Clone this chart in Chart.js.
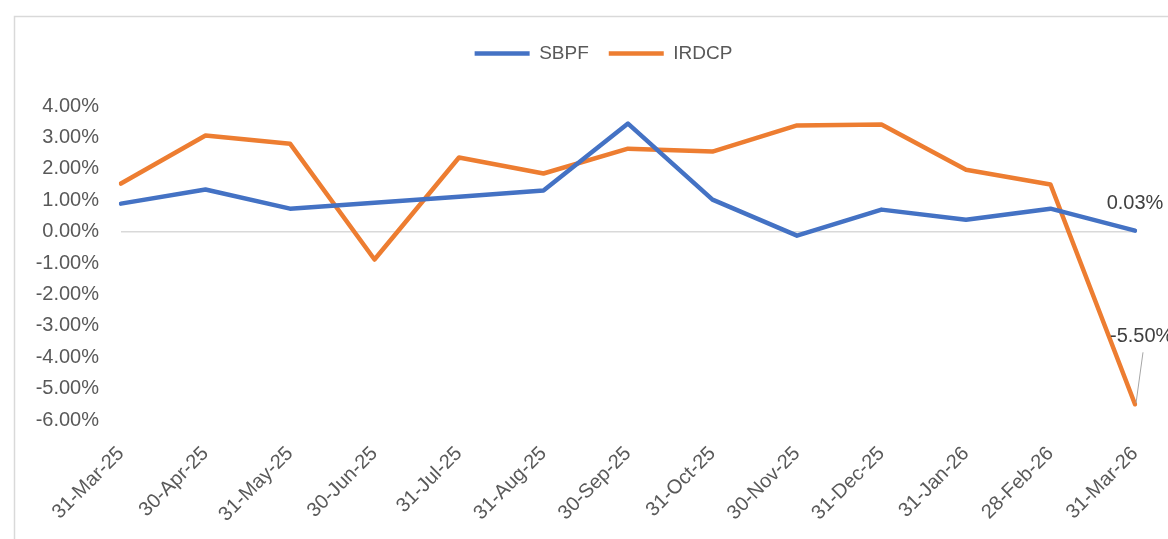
<!DOCTYPE html>
<html>
<head>
<meta charset="utf-8">
<script src="https://cdn.jsdelivr.net/npm/chart.js@4"></script>
<style>
  html, body { margin: 0; padding: 0; background: #fff; }
  #wrap { width: 1168px; height: 539px; }
</style>
</head>
<body>
<div id="wrap"><canvas id="my_Chart"></canvas></div>
<script>
// chart values (percent)
var dates = ["31-Mar-25", "30-Apr-25", "31-May-25", "30-Jun-25", "31-Jul-25", "31-Aug-25", "30-Sep-25",
             "31-Oct-25", "30-Nov-25", "31-Dec-25", "31-Jan-26", "28-Feb-26", "31-Mar-26"];
var sbpf  = [0.89, 1.34, 0.73, 0.92, 1.11, 1.31, 3.44, 1.02, -0.13, 0.70, 0.38, 0.73, 0.03];
var irdcp = [1.53, 3.06, 2.80, -0.89, 2.36, 1.85, 2.64, 2.55, 3.38, 3.41, 1.97, 1.50, -5.50];
var yTicks = [4, 3, 2, 1, 0, -1, -2, -3, -4, -5, -6];

var FONT = "'Liberation Sans', Arial, sans-serif";

// light grey frame round the chart
var framePlugin = {
    id: 'frame',
    beforeDraw: function (chart) {
        var c = chart.ctx;
        c.save();
        c.strokeStyle = '#d9d9d9';
        c.lineWidth = 1.5;
        c.strokeRect(14.5, 16.5, 1300, 700);
        c.restore();
    }
};

// the original legend sits a bit right of the canvas centre
var legendShift = {
    id: 'legendShift',
    afterLayout: function (chart) {
        if (chart.legend) {
            chart.legend.left += 36;
            chart.legend.right += 36;
        }
    }
};

// value labels on the last point of each line
var lastLabels = {
    id: 'lastLabels',
    afterDatasetsDraw: function (chart) {
        var c = chart.ctx;
        c.save();
        c.font = '20px ' + FONT;
        c.fillStyle = '#404040';
        c.textBaseline = 'middle';
        // SBPF
        var m0 = chart.getDatasetMeta(0);
        var p0 = m0.data[m0.data.length - 1];
        c.textAlign = 'center';
        c.fillText(sbpf[sbpf.length - 1].toFixed(2) + '%', p0.x, p0.y - 27);
        // IRDCP, with a leader line
        var m1 = chart.getDatasetMeta(1);
        var p1 = m1.data[m1.data.length - 1];
        c.textAlign = 'left';
        c.fillText(irdcp[irdcp.length - 1].toFixed(2) + '%', p1.x - 25, p1.y - 68);
        c.strokeStyle = '#a6a6a6';
        c.lineWidth = 1;
        c.beginPath();
        c.moveTo(p1.x + 8, p1.y - 52);
        c.lineTo(p1.x + 1, p1.y - 1);
        c.stroke();
        c.restore();
    }
};

var ctx = document.getElementById('my_Chart').getContext('2d');
var myChart = new Chart(ctx, {
    type: 'line',
    data: {
        labels: dates,
        datasets: [{
            label: 'SBPF',
            data: sbpf,
            borderColor: '#4472C4',
            backgroundColor: '#4472C4',
            borderWidth: 4.5,
            pointRadius: 0,
            borderJoinStyle: 'round',
            borderCapStyle: 'round',
            tension: 0
        }, {
            label: 'IRDCP',
            data: irdcp,
            borderColor: '#ED7D31',
            backgroundColor: '#ED7D31',
            borderWidth: 4.5,
            pointRadius: 0,
            borderJoinStyle: 'round',
            borderCapStyle: 'round',
            tension: 0
        }]
    },
    options: {
        responsive: true,
        maintainAspectRatio: false,
        animation: false,
        layout: { padding: { top: 24, right: 33, left: 0, bottom: 0 } },
        plugins: {
            legend: {
                position: 'top',
                labels: {
                    usePointStyle: true,
                    pointStyle: 'line',
                    pointStyleWidth: 55,
                    padding: 20,
                    color: '#595959',
                    font: { family: FONT, size: 19 }
                }
            },
            // empty title used as a spacer under the legend
            title: {
                display: true,
                text: ' ',
                weight: 500,
                padding: 0,
                font: { size: 10, lineHeight: '33px' }
            },
            tooltip: { enabled: false }
        },
        scales: {
            x: {
                offset: false,
                grid: { display: false },
                border: { display: false },
                ticks: {
                    minRotation: 45,
                    maxRotation: 45,
                    padding: 14,
                    color: '#595959',
                    font: { family: FONT, size: 20 }
                },
                afterFit: function (s) { s.height = 119; }
            },
            y: {
                min: -6,
                max: 4,
                afterBuildTicks: function (s) {
                    s.ticks = yTicks.map(function (v) { return { value: v }; });
                },
                grid: {
                    drawTicks: false,
                    lineWidth: 1.5,
                    color: function (c) { return c.tick && c.tick.value === 0 ? '#d9d9d9' : 'rgba(0,0,0,0)'; }
                },
                border: { display: false },
                ticks: {
                    padding: 22,
                    color: '#595959',
                    font: { family: FONT, size: 20 },
                    callback: function (v) { return v.toFixed(2) + '%'; }
                },
                afterFit: function (s) { s.width = 121; }
            }
        }
    },
    plugins: [framePlugin, legendShift, lastLabels]
});
</script>
</body>
</html>
